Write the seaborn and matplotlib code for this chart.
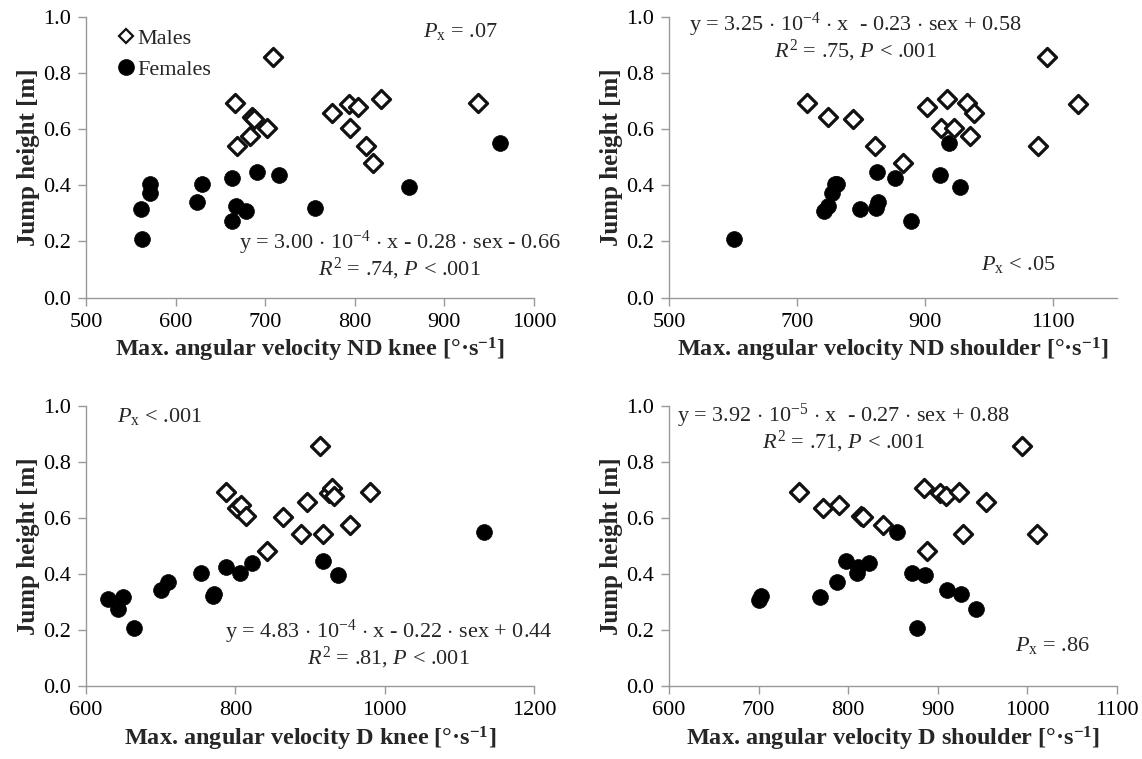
import matplotlib
matplotlib.use("Agg")
import matplotlib.pyplot as plt
from matplotlib.lines import Line2D
import seaborn as sns
import pandas as pd

# Panel A: ND knee
knee_nd_m_x = [666, 709, 685, 688, 702, 683, 669, 775, 794, 804, 829, 795, 812, 820, 937]
knee_nd_m_y = [0.692, 0.855, 0.644, 0.636, 0.605, 0.575, 0.541, 0.656, 0.689, 0.677, 0.706, 0.603, 0.541, 0.479, 0.692]
knee_nd_f_x = [561, 563, 571, 571, 624, 630, 663, 663, 667, 679, 691, 715, 756, 861, 962]
knee_nd_f_y = [0.316, 0.208, 0.371, 0.403, 0.342, 0.403, 0.425, 0.273, 0.327, 0.308, 0.446, 0.437, 0.320, 0.395, 0.549]

# Panel B: ND shoulder
sh_nd_m_x = [715, 749, 788, 822, 865, 903, 934, 925, 946, 966, 977, 971, 1091, 1139, 1076]
sh_nd_m_y = [0.692, 0.644, 0.635, 0.541, 0.480, 0.677, 0.706, 0.605, 0.603, 0.692, 0.656, 0.575, 0.855, 0.689, 0.541]
sh_nd_f_x = [601, 742, 749, 754, 760, 762, 798, 824, 826, 825, 853, 878, 924, 938, 954]
sh_nd_f_y = [0.208, 0.310, 0.327, 0.371, 0.403, 0.403, 0.316, 0.320, 0.342, 0.446, 0.425, 0.273, 0.437, 0.549, 0.395]

# Panel C: D knee
knee_d_m_x = [787, 913, 802, 808, 814, 864, 842, 888, 896, 917, 925, 930, 932, 954, 980]
knee_d_m_y = [0.692, 0.855, 0.636, 0.645, 0.605, 0.603, 0.481, 0.541, 0.656, 0.541, 0.689, 0.706, 0.677, 0.575, 0.692]
knee_d_f_x = [629, 643, 650, 664, 700, 710, 754, 770, 772, 787, 806, 822, 918, 937, 1133]
knee_d_f_y = [0.309, 0.273, 0.316, 0.208, 0.342, 0.371, 0.403, 0.320, 0.327, 0.425, 0.403, 0.437, 0.446, 0.395, 0.549]

# Panel D: D shoulder
sh_d_m_x = [745, 772, 790, 814, 816, 839, 885, 902, 909, 924, 954, 994, 928, 1011, 888]
sh_d_m_y = [0.692, 0.636, 0.645, 0.605, 0.603, 0.575, 0.706, 0.689, 0.677, 0.692, 0.656, 0.855, 0.541, 0.541, 0.481]
sh_d_f_x = [701, 703, 768, 787, 798, 810, 811, 823, 854, 871, 886, 877, 910, 926, 943]
sh_d_f_y = [0.308, 0.320, 0.316, 0.371, 0.446, 0.403, 0.425, 0.437, 0.549, 0.403, 0.395, 0.208, 0.342, 0.327, 0.273]

sns.set_style("ticks")
plt.rcParams['font.family'] = ['Liberation Serif', 'DejaVu Serif']
plt.rcParams['mathtext.fontset'] = 'custom'
plt.rcParams['mathtext.rm'] = 'Liberation Serif'
plt.rcParams['mathtext.it'] = 'Liberation Serif:italic'
plt.rcParams['mathtext.bf'] = 'Liberation Serif:bold'

GRAY = '#999999'

panels = [
    dict(mx=knee_nd_m_x, my=knee_nd_m_y, fx=knee_nd_f_x, fy=knee_nd_f_y,
         xlim=(500, 1000), xticks=[500, 600, 700, 800, 900, 1000],
         xlabel=r'Max. angular velocity ND knee [°·s$^{\mathbf{-1}}$]',
         eq=r'y = 3.00 $\cdot$ 10$^{-4}$ $\cdot$ x - 0.28 $\cdot$ sex - 0.66',
         r2=r'$R^2$ = .74, $P$ < .001', eqpos=(0.70, 0.196, 0.103),
         px=r'$P_\mathrm{x}$ = .07', pxpos=(0.835, 0.946), legend=True),
    dict(mx=sh_nd_m_x, my=sh_nd_m_y, fx=sh_nd_f_x, fy=sh_nd_f_y,
         xlim=(500, 1200), xticks=[500, 700, 900, 1100],
         xlabel=r'Max. angular velocity ND shoulder [°·s$^{\mathbf{-1}}$]',
         eq=r'y = 3.25 $\cdot$ 10$^{-4}$ $\cdot$ x  - 0.23 $\cdot$ sex + 0.58',
         r2=r'$R^2$ = .75, $P$ < .001', eqpos=(0.415, 0.972, 0.878),
         px=r'$P_\mathrm{x}$ < .05', pxpos=(0.78, 0.117), legend=False),
    dict(mx=knee_d_m_x, my=knee_d_m_y, fx=knee_d_f_x, fy=knee_d_f_y,
         xlim=(600, 1200), xticks=[600, 800, 1000, 1200],
         xlabel=r'Max. angular velocity D knee [°·s$^{\mathbf{-1}}$]',
         eq=r'y = 4.83 $\cdot$ 10$^{-4}$ $\cdot$ x - 0.22 $\cdot$ sex + 0.44',
         r2=r'$R^2$ = .81, $P$ < .001', eqpos=(0.676, 0.194, 0.099),
         px=r'$P_\mathrm{x}$ < .001', pxpos=(0.165, 0.96), legend=False),
    dict(mx=sh_d_m_x, my=sh_d_m_y, fx=sh_d_f_x, fy=sh_d_f_y,
         xlim=(600, 1100), xticks=[600, 700, 800, 900, 1000, 1100],
         xlabel=r'Max. angular velocity D shoulder [°·s$^{\mathbf{-1}}$]',
         eq=r'y = 3.92 $\cdot$ 10$^{-5}$ $\cdot$ x  - 0.27 $\cdot$ sex + 0.88',
         r2=r'$R^2$ = .71, $P$ < .001', eqpos=(0.39, 0.965, 0.872),
         px=r'$P_\mathrm{x}$ = .86', pxpos=(0.857, 0.146), legend=False),
]

fig = plt.figure(figsize=(11.42, 7.59), dpi=100)
rects = [
    [0.0753, 0.6078, 0.3923, 0.3702],
    [0.5858, 0.6078, 0.3923, 0.3702],
    [0.0753, 0.0962, 0.3923, 0.3693],
    [0.5858, 0.0962, 0.3923, 0.3693],
]

for rect, p in zip(rects, panels):
    ax = fig.add_axes(rect)
    fem = pd.DataFrame({'x': p['fx'], 'y': p['fy']})
    mal = pd.DataFrame({'x': p['mx'], 'y': p['my']})
    sns.scatterplot(data=fem, x='x', y='y', ax=ax, marker='o', s=130,
                    color='black', edgecolor='black', linewidth=0.5, zorder=3)
    sns.scatterplot(data=mal, x='x', y='y', ax=ax, marker='D', s=85,
                    color='white', edgecolor='#111111', linewidth=2.3, zorder=4)
    ax.set_xlim(*p['xlim'])
    ax.set_ylim(0, 1.0)
    ax.set_xticks(p['xticks'])
    ax.set_yticks([0.0, 0.2, 0.4, 0.6, 0.8, 1.0])
    ax.set_yticklabels(['0.0', '0.2', '0.4', '0.6', '0.8', '1.0'])
    sns.despine(ax=ax)
    for s in ['left', 'bottom']:
        ax.spines[s].set_color(GRAY)
        ax.spines[s].set_linewidth(1.0)
    ax.tick_params(axis='both', direction='out', length=6, width=1.0,
                   color=GRAY, labelsize=16, labelcolor='black', pad=5)
    ax.set_xlabel(p['xlabel'], fontsize=17.5, fontweight='bold', labelpad=3)
    ax.set_ylabel('Jump height [m]', fontsize=18, fontweight='bold', labelpad=2)

    cx, y1, y2 = p['eqpos']
    ax.text(cx, y1, p['eq'], transform=ax.transAxes, fontsize=16,
            ha='center', va='center')
    ax.text(cx, y2, p['r2'], transform=ax.transAxes, fontsize=16,
            ha='center', va='center')
    ax.text(p['pxpos'][0], p['pxpos'][1], p['px'], transform=ax.transAxes,
            fontsize=16, ha='center', va='center')

    if p['legend']:
        handles = [
            Line2D([], [], marker='D', linestyle='none', markersize=7,
                   markerfacecolor='white', markeredgecolor='#111111',
                   markeredgewidth=1.6, label='Males'),
            Line2D([], [], marker='o', linestyle='none', markersize=11,
                   markerfacecolor='black', markeredgecolor='black',
                   label='Females'),
        ]
        ax.legend(handles=handles, loc='upper left', frameon=False,
                  fontsize=16, handletextpad=0.1, handlelength=0.8,
                  borderaxespad=0.2, labelspacing=0.45,
                  bbox_to_anchor=(0.04, 1.005))

plt.savefig("out.png", dpi=100)
plt.close()
